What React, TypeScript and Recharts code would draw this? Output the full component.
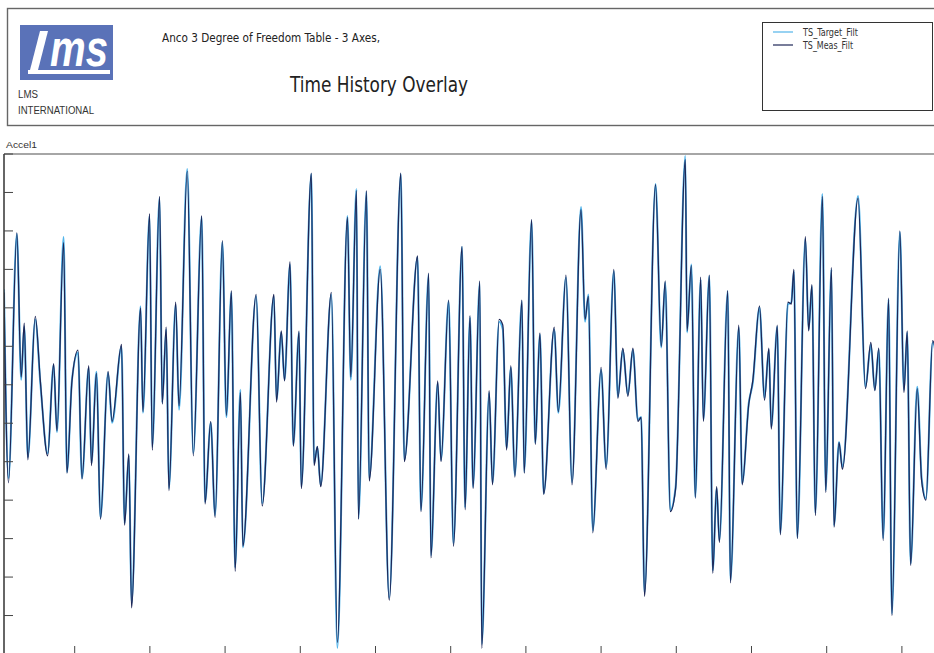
import { LineChart, Line, XAxis, YAxis } from 'recharts';

// time (s) of each turning point
const times = [
  0.06, 0.12, 0.231, 0.289, 0.329, 0.377, 0.476, 0.543, 0.64, 0.72,
  0.764, 0.853, 0.897, 0.964, 1.044, 1.097, 1.187, 1.223, 1.289, 1.343,
  1.444, 1.497, 1.623, 1.663, 1.72, 1.756, 1.876, 1.907, 1.996, 2.031,
  2.129, 2.164, 2.217, 2.253, 2.343, 2.387, 2.497, 2.577, 2.689, 2.733,
  2.809, 2.867, 2.964, 3.017, 3.084, 3.133, 3.204, 3.236, 3.413, 3.493,
  3.649, 3.684, 3.747, 3.791, 3.863, 3.907, 3.983, 4.013, 4.147, 4.183,
  4.227, 4.271, 4.413, 4.493, 4.627, 4.671, 4.747, 4.773, 4.88, 4.916,
  5.063, 5.183, 5.337, 5.383, 5.56, 5.604, 5.707, 5.737, 5.827, 5.871,
  5.973, 6.036, 6.151, 6.191, 6.257, 6.297, 6.387, 6.413, 6.511, 6.556,
  6.644, 6.693, 6.743, 6.8, 6.853, 6.947, 6.977, 7.076, 7.124, 7.187,
  7.236, 7.377, 7.431, 7.533, 7.613, 7.733, 7.787, 7.831, 7.889, 8.0,
  8.067, 8.169, 8.223, 8.289, 8.356, 8.423, 8.489, 8.533, 8.577, 8.724,
  8.8, 8.853, 8.92, 8.991, 9.12, 9.143, 9.2, 9.253, 9.324, 9.36,
  9.44, 9.484, 9.537, 9.573, 9.684, 9.72, 9.831, 9.876, 9.964, 10.017,
  10.107, 10.173, 10.231, 10.263, 10.343, 10.383, 10.484, 10.529, 10.564, 10.609,
  10.716, 10.76, 10.804, 10.849, 10.943, 10.987, 11.063, 11.097, 11.164, 11.209,
  11.417, 11.516, 11.587, 11.64, 11.693, 11.751, 11.823, 11.867, 11.973, 12.027,
  12.071, 12.116, 12.204, 12.263, 12.32, 12.409, 12.467,
];

const targetFilt = [
  2.48, -2.43, 3.92, 0.13, 1.51, -1.88, 1.7, 0.05, -1.78, 0.52,
  -1.23, 3.84, -2.27, 0.13, 0.84, -2.43, 0.44, -2.04, 0.34, -3.45,
  0.31, -0.99, 0.99, -3.6, -1.83, -5.69, 2.04, -0.73, 4.39, -1.62,
  4.86, -0.47, 1.44, -2.69, 2.09, -0.65, 5.61, -1.78, 4.36, -3.05,
  -0.99, -3.39, 3.71, -0.84, 2.4, -4.75, -0.13, -4.23, 2.3, -3.08,
  2.3, -0.39, 1.36, 0.13, 3.13, -1.57, 1.36, -2.66, 5.48, -2.04,
  -1.62, -2.61, 2.35, -6.84, 4.39, 0.13, 5.09, -3.47, 5.01, -2.43,
  3.08, -5.54, 5.48, -1.96, 3.32, -3.26, 2.87, -4.44, 0.05, -1.96,
  2.17, -4.13, 3.58, -3.19, 1.75, -2.66, 2.66, -6.74, -0.21, -2.56,
  1.64, 1.44, -1.64, 0.44, -2.35, 2.17, -2.27, 4.26, -1.51, 1.31,
  -2.82, 1.44, -0.73, 2.79, -2.53, 4.62, 1.64, 2.35, -3.79, 0.39,
  -2.14, 2.95, -0.31, 0.91, -0.26, 0.91, -0.91, -0.84, -5.4, 5.22,
  0.97, 2.66, -3.26, -2.66, 5.95, 1.36, 3.13, -2.92, 2.74, -0.91,
  2.82, -4.83, -2.69, -4.05, 2.43, -5.09, 1.49, -2.56, -0.47, 0.05,
  2.01, -0.34, 0.91, -1.1, 1.51, -3.86, 2.09, 2.14, 2.95, -3.97,
  3.79, 1.44, 2.56, -3.34, 4.96, -2.74, 3.0, -3.66, -1.49, -2.14,
  4.91, -0.05, 1.04, -0.13, 0.91, -3.99, 2.22, -5.95, 3.97, -0.13,
  1.36, -4.65, -0.05, -2.43, -2.95, 1.1, 0.6,
];

const measFilt = [
  2.4, -2.55, 3.95, 0.2, 1.6, -1.95, 1.78, 0.1, -1.85, 0.55,
  -1.2, 3.7, -2.3, 0.1, 0.9, -2.45, 0.5, -2.1, 0.3, -3.5,
  0.35, -0.95, 1.05, -3.65, -1.8, -5.8, 2.0, -0.7, 4.45, -1.7,
  4.9, -0.5, 1.5, -2.75, 2.15, -0.55, 5.55, -1.85, 4.4, -3.1,
  -0.95, -3.45, 3.75, -0.8, 2.45, -4.85, -0.2, -4.2, 2.35, -3.15,
  2.35, -0.45, 1.4, 0.1, 3.2, -1.6, 1.4, -2.7, 5.5, -2.1,
  -1.6, -2.65, 2.4, -6.7, 4.35, 0.2, 5.05, -3.5, 5.05, -2.5,
  3.0, -5.6, 5.5, -2.0, 3.35, -3.3, 2.9, -4.5, 0.1, -2.0,
  2.2, -4.2, 3.6, -3.25, 1.8, -2.7, 2.7, -6.85, -0.15, -2.6,
  1.7, 1.55, -1.7, 0.5, -2.4, 2.2, -2.3, 4.3, -1.55, 1.35,
  -2.85, 1.5, -0.7, 2.85, -2.6, 4.55, 1.7, 2.3, -3.85, 0.45,
  -2.2, 3.0, -0.35, 0.95, -0.3, 0.95, -0.95, -0.85, -5.5, 5.2,
  1.0, 2.7, -3.3, -2.7, 5.85, 1.4, 3.1, -2.95, 2.8, -0.95,
  2.85, -4.9, -2.65, -4.1, 2.45, -5.15, 1.55, -2.6, -0.5, 0.1,
  2.05, -0.4, 0.95, -1.15, 1.55, -3.9, 2.15, 2.1, 3.0, -4.0,
  3.85, 1.4, 2.6, -3.4, 4.9, -2.8, 3.05, -3.7, -1.5, -2.2,
  4.85, -0.1, 1.1, -0.15, 0.95, -4.05, 2.25, -6.0, 4.0, -0.2,
  1.4, -4.7, -0.1, -2.5, -3.0, 1.15, 0.65,
];

const seriesNames = ['TS_Target_Filt', 'TS_Meas_Filt'];
const seriesColors = ['#52b4ea', '#1e2656'];
const timeTicks = [1, 2, 3, 4, 5, 6, 7, 8, 9, 10, 11, 12];
const accelTicks = [-7, -6, -5, -4, -3, -2, -1, 0, 1, 2, 3, 4, 5, 6];

const data = times.map((t, i) => ({ t, target: targetFilt[i], meas: measFilt[i] }));

const narrow = "'Liberation Sans Narrow', 'DejaVu Sans Condensed', 'Liberation Sans', sans-serif";
const sans = "'Liberation Sans', Arial, sans-serif";

// tick marks only, the original plot has no tick labels
const NoLabel = () => <g />;

const Header = () => (
  <svg width={934} height={653} style={{ position: 'absolute', left: 0, top: 0, pointerEvents: 'none' }}>
    <rect x={7.5} y={8.5} width={940} height={117} fill="none" stroke="#666" strokeWidth={1.4} />
    {/* logo */}
    <rect x={20} y={25} width={93} height={55} fill="#5a72b8" />
    <polygon points="40,31 48,31 38,70 30,70" fill="#fff" />
    <rect x={28} y={70} width={82} height={4} fill="#fff" />
    <text x={50} y={66} fontFamily={sans} fontWeight="bold" fontStyle="italic" fontSize={52}
      fill="#fff" textLength={58} lengthAdjust="spacingAndGlyphs">ms</text>
    <text x={18} y={98} fontFamily={sans} fontSize={10} fill="#333" textLength={20} lengthAdjust="spacingAndGlyphs">LMS</text>
    <text x={18} y={114} fontFamily={sans} fontSize={10} fill="#333" textLength={76} lengthAdjust="spacingAndGlyphs">INTERNATIONAL</text>
    <text x={162} y={42} fontFamily={narrow} fontSize={12} fill="#222" textLength={218} lengthAdjust="spacingAndGlyphs">
      Anco 3 Degree of Freedom Table - 3 Axes,
    </text>
    <text x={290} y={92} fontFamily={narrow} fontSize={22} fill="#222" textLength={178} lengthAdjust="spacingAndGlyphs">
      Time History Overlay
    </text>
    {/* legend */}
    <rect x={762.5} y={22.5} width={170} height={88} fill="none" stroke="#333" strokeWidth={1} />
    {seriesNames.map((name, i) => (
      <g key={name}>
        <line x1={773} x2={793} y1={32 + i * 13} y2={32 + i * 13} stroke={seriesColors[i]} strokeWidth={1.2} />
        <text x={803} y={36 + i * 13} fontFamily={narrow} fontSize={11} fill="#333"
          textLength={i === 0 ? 55 : 50} lengthAdjust="spacingAndGlyphs">{name}</text>
      </g>
    ))}
    <text x={6} y={148} fontFamily={sans} fontSize={9.5} fill="#333" textLength={31} lengthAdjust="spacingAndGlyphs">Accel1</text>
  </svg>
);

export default function App() {
  return (
    <div style={{ position: 'fixed', left: 0, top: 0, width: 934, height: 653, overflow: 'hidden', background: '#fff' }}>
      <LineChart width={950} height={660} data={data} margin={{ top: 154, left: 4, right: 9, bottom: 6 }}>
        <XAxis dataKey="t" type="number" domain={[0.06, 12.52]} ticks={timeTicks} allowDataOverflow
          height={1} mirror tick={NoLabel} tickSize={8} axisLine={{ stroke: '#444' }} tickLine={{ stroke: '#444' }} />
        <XAxis xAxisId="top" orientation="top" dataKey="t" type="number" domain={[0.06, 12.52]} allowDataOverflow
          height={1} mirror tick={false} tickLine={false} axisLine={{ stroke: '#888', strokeWidth: 1.5 }} />
        <YAxis type="number" domain={[-7, 6]} ticks={accelTicks} allowDataOverflow width={1} mirror
          tick={NoLabel} tickSize={9} axisLine={{ stroke: '#333', strokeWidth: 1.5 }} tickLine={{ stroke: '#444' }} />
        <YAxis yAxisId="right" orientation="right" type="number" domain={[-7, 6]} ticks={accelTicks} width={1} mirror
          tick={NoLabel} tickSize={9} axisLine={{ stroke: '#444' }} tickLine={{ stroke: '#444' }} />
        <Line type="monotone" dataKey="target" name={seriesNames[0]} stroke={seriesColors[0]} strokeWidth={2}
          dot={false} isAnimationActive={false} />
        <Line type="monotone" dataKey="meas" name={seriesNames[1]} stroke={seriesColors[1]} strokeWidth={1.3}
          dot={false} isAnimationActive={false} />
      </LineChart>
      <Header />
    </div>
  );
}
